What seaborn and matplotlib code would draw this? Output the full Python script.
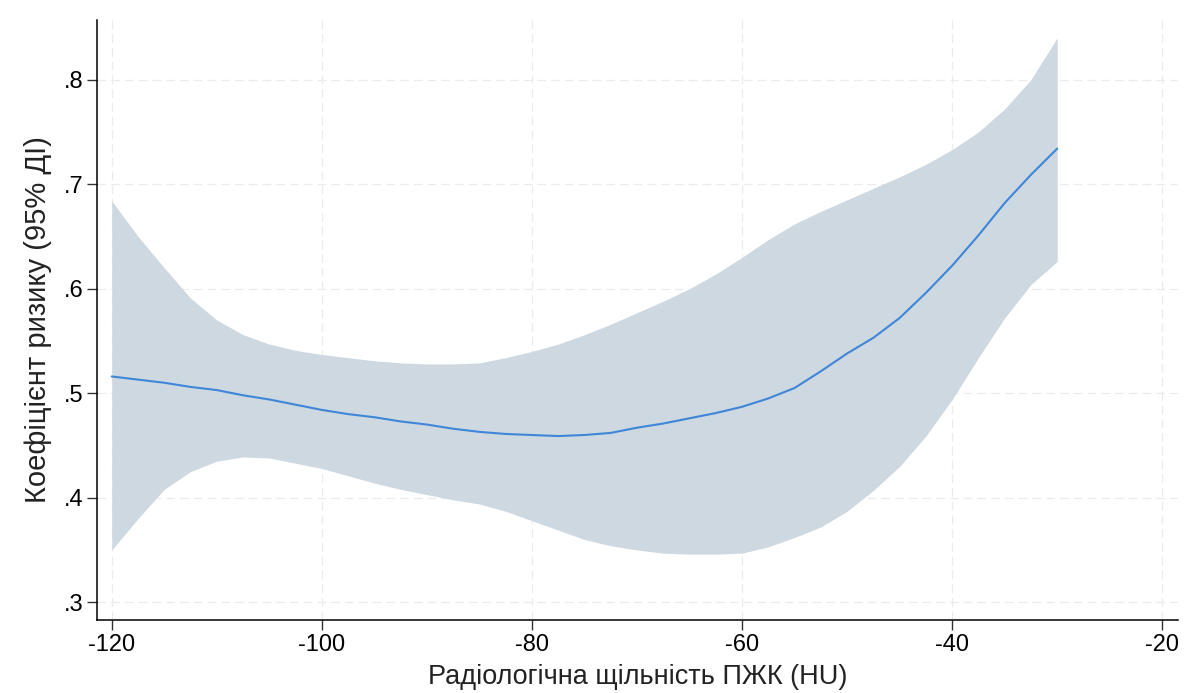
import matplotlib
matplotlib.use("Agg")
import matplotlib.pyplot as plt
import seaborn as sns
import numpy as np
import pandas as pd

# ---- data ----
hu = [-120, -117.5, -115, -112.5, -110, -107.5, -105, -102.5, -100, -97.5, -95, -92.5,
      -90, -87.5, -85, -82.5, -80, -77.5, -75, -72.5, -70, -67.5, -65, -62.5, -60,
      -57.5, -55, -52.5, -50, -47.5, -45, -42.5, -40, -37.5, -35, -32.5, -30]
risk = [0.516, 0.513, 0.510, 0.506, 0.503, 0.498, 0.494, 0.489, 0.484, 0.480, 0.477, 0.473,
        0.470, 0.466, 0.463, 0.461, 0.460, 0.459, 0.460, 0.462, 0.467, 0.471, 0.476, 0.481, 0.487,
        0.495, 0.505, 0.521, 0.538, 0.553, 0.572, 0.596, 0.622, 0.651, 0.682, 0.709, 0.734]
ci_upper = [0.684, 0.650, 0.620, 0.591, 0.570, 0.556, 0.547, 0.541, 0.537, 0.534, 0.531, 0.529,
            0.528, 0.528, 0.529, 0.534, 0.540, 0.547, 0.556, 0.566, 0.577, 0.588, 0.600, 0.614, 0.630,
            0.647, 0.662, 0.674, 0.685, 0.696, 0.707, 0.719, 0.733, 0.750, 0.772, 0.800, 0.840]
ci_lower = [0.350, 0.380, 0.408, 0.425, 0.435, 0.439, 0.438, 0.433, 0.428, 0.421, 0.414, 0.408,
            0.403, 0.398, 0.394, 0.387, 0.378, 0.369, 0.360, 0.354, 0.350, 0.347, 0.346, 0.346, 0.347,
            0.353, 0.362, 0.372, 0.387, 0.407, 0.430, 0.459, 0.494, 0.534, 0.572, 0.604, 0.626]

x_ticks = [-120, -100, -80, -60, -40, -20]
y_ticks = [0.3, 0.4, 0.5, 0.6, 0.7, 0.8]
y_tick_labels = [".3", ".4", ".5", ".6", ".7", ".8"]
x_label = "Радіологічна щільність ПЖК (HU)"
y_label = "Коефіцієнт ризику (95% ДІ)"

df = pd.DataFrame({"hu": hu, "risk": risk, "lo": ci_lower, "hi": ci_upper})

sns.set_theme(style="white")
plt.rcParams["font.family"] = ["Liberation Sans", "DejaVu Sans"]

fig = plt.figure(figsize=(11.86, 6.93), dpi=100)
ax = fig.add_axes([0.0818, 0.1053, 0.9115, 0.8658])

ax.fill_between(df["hu"], df["lo"], df["hi"], color="#ced8e1", linewidth=0, zorder=2)
sns.lineplot(data=df, x="hu", y="risk", ax=ax, color="#3f86d8", linewidth=1.5,
             zorder=3, estimator=None, sort=True)

ax.set_xlim(-121.4, -18.5)
ax.set_ylim(0.283, 0.857)
ax.set_xticks(x_ticks)
ax.set_xticklabels([str(v) for v in x_ticks])
ax.set_yticks(y_ticks)
ax.set_yticklabels(y_tick_labels)

ax.grid(True, color="#ebebeb", linestyle=(0, (7, 4)), linewidth=0.9, zorder=0)
ax.set_axisbelow(True)

for s in ["top", "right"]:
    ax.spines[s].set_visible(False)
for s in ["left", "bottom"]:
    ax.spines[s].set_color("black")
    ax.spines[s].set_linewidth(1.1)

ax.tick_params(axis="both", direction="out", length=7, width=1.0, color="#333333",
               labelsize=17, labelcolor="black", bottom=True, left=True, pad=3)

ax.set_xlabel(x_label, fontsize=19.5, color="#222222", labelpad=6)
ax.set_ylabel(y_label, fontsize=21, color="#222222", labelpad=8)

fig.savefig("out.png", dpi=100, facecolor="white")
